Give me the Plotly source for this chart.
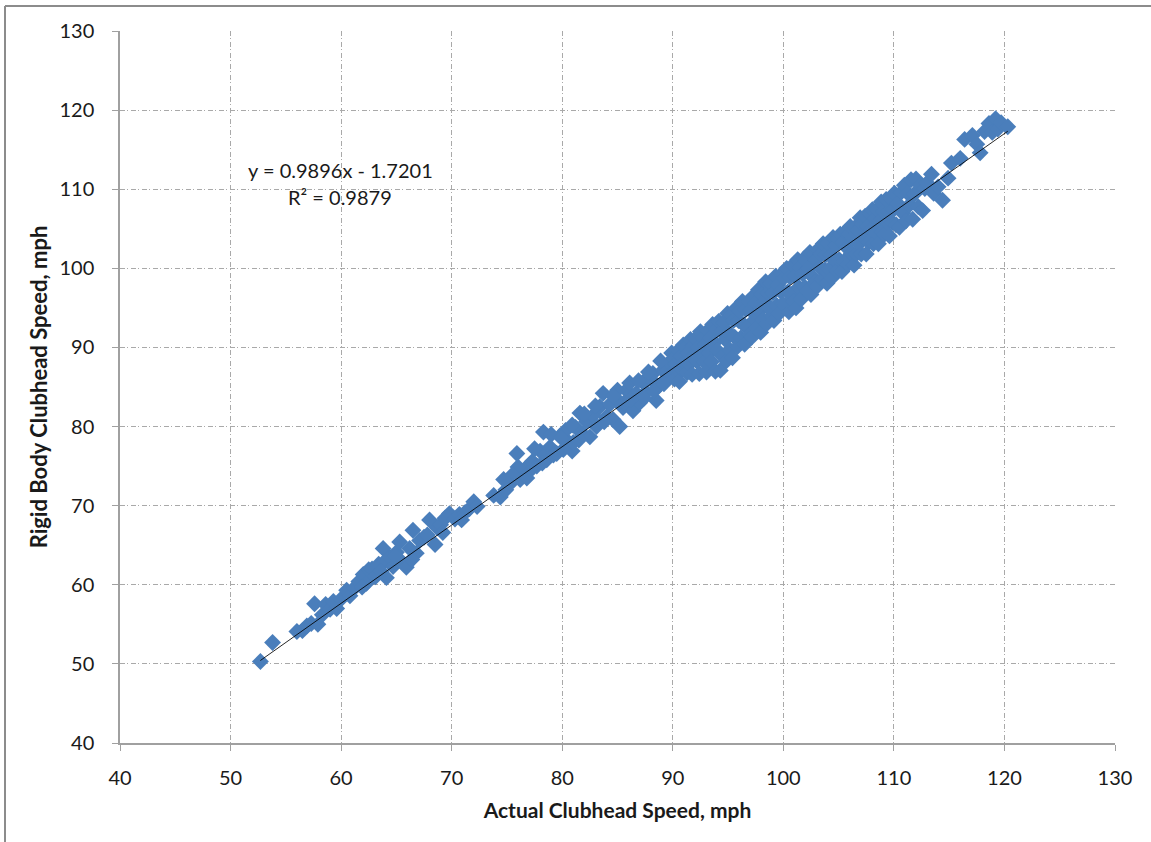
import plotly.graph_objects as go

# ---- data ----
actual_speed = [
    52.7, 53.8, 56.0, 56.5, 56.9, 57.3, 57.6, 57.9, 58.3, 58.6, 59.0, 59.3, 59.6, 60.0,
    60.5, 60.8, 61.2, 61.6, 62.0, 62.3, 62.5, 62.8, 63.1, 63.4, 63.8, 63.9, 64.1, 64.4, 64.7,
    65.0, 65.3, 65.5, 65.9, 66.2, 66.5, 66.8, 67.1, 67.5, 68.0, 68.5, 68.7, 69.0, 69.4, 69.8,
    70.3, 70.7, 71.2, 71.6, 72.0, 72.3, 73.8,
    74.4, 74.9, 75.3, 75.9, 76.2, 76.6, 77.0, 77.3, 77.7, 78.0, 78.3, 78.6, 78.9, 79.2, 79.5,
    79.8, 80.1, 80.3, 80.6, 80.9, 81.2, 81.6, 81.9, 82.2, 82.5, 82.8, 83.1, 83.4, 83.7, 84.0,
    84.3, 84.6, 84.9, 85.2, 85.5, 85.8, 86.1, 86.4, 86.7, 87.0, 87.3, 87.6, 88.0, 88.2, 88.5,
    88.8, 89.1, 89.4, 89.7, 90.0,
    86.9, 87.8, 88.9, 89.9, 89.2, 87.4, 85.0, 83.0, 82.0, 80.9, 84.6, 81.5, 79.0, 77.5, 76.0,
    75.5, 74.7, 85.6, 86.2, 88.3, 83.8, 81.0, 79.9, 78.2, 76.8, 61.9, 63.6, 64.9, 66.4, 67.8,
    69.2, 70.9,
    90.05, 90.15, 90.3, 90.4, 90.5, 90.6, 90.75, 90.85, 90.95,
    91.05, 91.15, 91.3, 91.4, 91.5, 91.6, 91.75, 91.85, 91.95,
    92.05, 92.15, 92.3, 92.4, 92.5, 92.6, 92.75, 92.85, 92.95,
    93.05, 93.15, 93.3, 93.4, 93.5, 93.6, 93.75, 93.85, 93.95,
    94.05, 94.15, 94.3, 94.4, 94.5, 94.6, 94.75, 94.85, 94.95,
    95.05, 95.15, 95.3, 95.4, 95.5, 95.6, 95.75, 95.85, 95.95,
    96.05, 96.15, 96.3, 96.4, 96.5, 96.6, 96.75, 96.85, 96.95,
    97.05, 97.15, 97.3, 97.4, 97.5, 97.6, 97.75, 97.85, 97.95,
    98.05, 98.15, 98.3, 98.4, 98.5, 98.6, 98.75, 98.85, 98.95,
    99.05, 99.15, 99.3, 99.4, 99.5, 99.6, 99.75, 99.85, 99.95,
    100.05, 100.15, 100.3, 100.4, 100.5, 100.6, 100.75, 100.85, 100.95,
    101.05, 101.15, 101.3, 101.4, 101.5, 101.6, 101.75, 101.85, 101.95,
    102.05, 102.15, 102.3, 102.4, 102.5, 102.6, 102.75, 102.85, 102.95,
    103.05, 103.15, 103.3, 103.4, 103.5, 103.6, 103.75, 103.85, 103.95,
    104.05, 104.15, 104.3, 104.4, 104.5, 104.6, 104.75, 104.85, 104.95,
    105.05, 105.15, 105.3, 105.4, 105.5, 105.6, 105.75, 105.85, 105.95,
    106.05, 106.15, 106.3, 106.4, 106.5, 106.6, 106.75, 106.85, 106.95,
    107.05, 107.15, 107.3, 107.4, 107.5, 107.6, 107.75, 107.85, 107.95,
    108.05, 108.15, 108.3, 108.4, 108.5, 108.6, 108.75, 108.85, 108.95,
    109.05, 109.15, 109.3, 109.4, 109.5, 109.6, 109.75, 109.85, 109.95,
    110.05, 110.2, 110.35, 110.5, 110.65, 110.8, 110.95,
    111.1, 111.25, 111.4, 111.55, 111.7, 111.85,
    112.0, 112.2, 112.4, 112.6, 112.8,
    113.0, 113.4, 113.6, 114.0, 114.4, 114.9, 115.2, 116.0, 116.4, 117.1, 117.5, 117.8,
    118.2, 118.6, 118.9, 119.2, 119.4, 119.7, 120.3,
]
rigid_body_speed = [
    50.3, 52.7, 54.1, 54.2, 54.8, 55.1, 57.6, 55.0, 56.2, 57.5, 56.9, 57.9, 57.0, 58.2,
    59.3, 58.6, 59.6, 60.4, 61.3, 60.2, 61.9, 62.0, 61.0, 62.6, 64.6, 62.9, 60.9, 63.5, 62.3,
    64.1, 65.4, 62.9, 62.2, 64.6, 66.9, 64.0, 65.6, 66.0, 68.2, 65.1, 67.2, 67.6, 68.4, 69.0,
    68.3, 68.9, 69.1, 69.6, 70.5, 69.9, 71.3,
    71.1, 72.0, 72.8, 76.6, 73.3, 74.6, 74.3, 75.6, 75.0, 76.9, 79.3, 75.8, 77.4, 76.4, 76.6,
    78.8, 77.1, 79.5, 78.0, 76.9, 79.9, 81.7, 79.0, 80.6, 78.7, 81.4, 80.0, 82.5, 84.2, 81.2,
    82.8, 80.9, 83.5, 80.0, 82.4, 84.6, 85.5, 82.0, 84.2, 83.0, 85.6, 84.4, 86.0, 86.7, 83.3,
    85.2, 87.1, 86.0, 88.1, 86.9,
    85.8, 86.9, 88.3, 89.3, 85.4, 83.6, 84.6, 82.6, 81.6, 80.2, 83.9, 78.3, 79.0, 77.2, 74.9,
    73.9, 73.3, 83.0, 83.4, 84.5, 80.6, 78.0, 78.6, 75.4, 73.5, 59.7, 61.7, 63.6, 63.2, 66.3,
    66.6, 68.2,
    88.6, 86.0, 87.9, 87.1, 89.6, 85.7, 88.9, 87.2, 90.3,
    88.1, 90.0, 86.8, 89.3, 87.9, 91.0, 86.6, 90.2, 89.1,
    91.1, 88.3, 90.0, 86.7, 92.0, 89.2, 91.2, 88.2, 90.4,
    86.9, 92.1, 89.3, 91.2, 88.2, 92.9, 90.6, 87.0, 92.3,
    89.6, 93.3, 87.1, 92.0, 88.9, 93.1, 91.0, 88.3, 94.3,
    91.9, 89.7, 94.1, 88.7, 93.4, 91.3, 95.0, 90.1, 93.4,
    94.6, 91.2, 95.8, 92.9, 90.4, 94.8, 92.5, 95.8, 91.6,
    94.7, 91.3, 96.5, 93.5, 95.6, 92.5, 97.3, 94.6, 91.9,
    96.7, 93.5, 95.8, 98.3, 93.0, 96.9, 94.9, 98.1, 94.0,
    96.9, 93.4, 99.0, 95.3, 97.9, 94.3, 97.1, 99.3, 95.5,
    98.8, 95.3, 100.0, 97.0, 94.5, 98.9, 96.7, 100.4, 95.8,
    99.0, 95.0, 101.1, 97.6, 100.1, 96.1, 99.3, 101.2, 97.6,
    100.9, 97.1, 100.0, 102.0, 96.7, 99.0, 101.8, 98.2, 101.1,
    97.7, 102.4, 100.1, 101.8, 98.6, 103.1, 99.8, 101.7, 98.1,
    103.2, 99.9, 101.7, 98.8, 103.9, 101.1, 102.9, 99.7, 103.7,
    101.1, 104.3, 99.6, 103.3, 100.9, 104.6, 102.6, 100.5, 104.3,
    105.3, 101.9, 103.9, 100.4, 105.2, 101.8, 104.8, 103.1, 106.4,
    101.8, 105.6, 103.9, 106.6, 101.8, 105.3, 103.3, 106.9, 104.9,
    107.4, 103.1, 106.3, 104.5, 107.4, 103.1, 106.0, 108.4, 104.6,
    107.2, 104.3, 108.7, 105.8, 107.2, 104.1, 108.8, 105.8, 107.4,
    109.5, 105.5, 108.2, 105.2, 109.6, 107.0, 110.5,
    106.0, 109.5, 108.0, 111.2, 106.2, 109.4,
    111.3, 107.8, 110.5, 107.3, 110.1,
    110.8, 111.9, 109.5, 110.3, 108.6, 111.4, 113.3, 113.9, 116.3, 116.8, 115.7, 114.6,
    117.3, 118.3, 117.2, 118.9, 117.6, 118.4, 117.9,
]

# linear trendline coefficients shown on the chart
trend_slope = 0.9896
trend_intercept = -1.7201
trend_r2 = 0.9879

x_ticks = [40, 50, 60, 70, 80, 90, 100, 110, 120, 130]
y_ticks = [40, 50, 60, 70, 80, 90, 100, 110, 120, 130]

x_title = "Actual Clubhead Speed, mph"
y_title = "Rigid Body Clubhead Speed, mph"

FONT = "Lato, 'Open Sans', sans-serif"
GRID = "#a9a9a9"
AXIS = "#a0a0a0"
BLUE = "#4A7EBB"
TEXT = "#1a1a1a"

fig = go.Figure()
fig.add_trace(go.Scatter(
    x=actual_speed, y=rigid_body_speed, mode="markers",
    marker=dict(symbol="diamond", size=13, color=BLUE, line=dict(width=0)),
    showlegend=False, hoverinfo="x+y",
))

x_lo, x_hi = min(actual_speed), max(actual_speed)
fig.add_trace(go.Scatter(
    x=[x_lo, x_hi],
    y=[trend_slope * x_lo + trend_intercept, trend_slope * x_hi + trend_intercept],
    mode="lines", line=dict(color="rgba(0,0,0,0.85)", width=1),
    showlegend=False, hoverinfo="skip",
))

axis_common = dict(
    showgrid=True, gridcolor=GRID, gridwidth=1, griddash="5px,2px,1px,3px",
    showline=True, linecolor=AXIS, linewidth=1.5,
    ticks="outside", ticklen=6, tickcolor=AXIS, tickwidth=1,
    zeroline=False, tickfont=dict(family=FONT, size=20, color=TEXT),
)

fig.update_layout(
    width=1151, height=842,
    margin=dict(l=120, r=36, t=31, b=99),
    paper_bgcolor="white", plot_bgcolor="white",
    font=dict(family=FONT, color=TEXT),
    xaxis=dict(range=[40, 130], tickvals=x_ticks, ticklabelstandoff=10,
               title=dict(text="<b>" + x_title + "</b>", font=dict(family=FONT, size=21, color=TEXT), standoff=16),
               **axis_common),
    yaxis=dict(range=[40, 130], tickvals=y_ticks, ticklabelstandoff=14,
               title=dict(text="<b>" + y_title + "</b>", font=dict(family=FONT, size=22, color=TEXT), standoff=6),
               **axis_common),
)

sign = "-" if trend_intercept < 0 else "+"
fig.add_annotation(x=59.94, y=112.43, xref="x", yref="y", showarrow=False,
                   text=f"y = {trend_slope:.4f}x {sign} {abs(trend_intercept):.4f}",
                   font=dict(family=FONT, size=20, color=TEXT))
fig.add_annotation(x=59.94, y=109.02, xref="x", yref="y", showarrow=False,
                   text=f"R² = {trend_r2:.4f}",
                   font=dict(family=FONT, size=20, color=TEXT))

# outer chart frame (top and left edges visible in the reference)
fx0 = (5 - 120) / 995
fy0 = 1 + (31 - 6) / 712
fig.add_shape(type="line", xref="paper", yref="paper", x0=fx0, y0=fy0, x1=1.1, y1=fy0,
              line=dict(color="#8c8c8c", width=2))
fig.add_shape(type="line", xref="paper", yref="paper", x0=fx0, y0=fy0, x1=fx0, y1=-0.2,
              line=dict(color="#8c8c8c", width=2))

fig.write_html("out.html", config={"displayModeBar": False},
               post_script="document.body.style.margin='0';document.body.style.overflow='hidden';")
